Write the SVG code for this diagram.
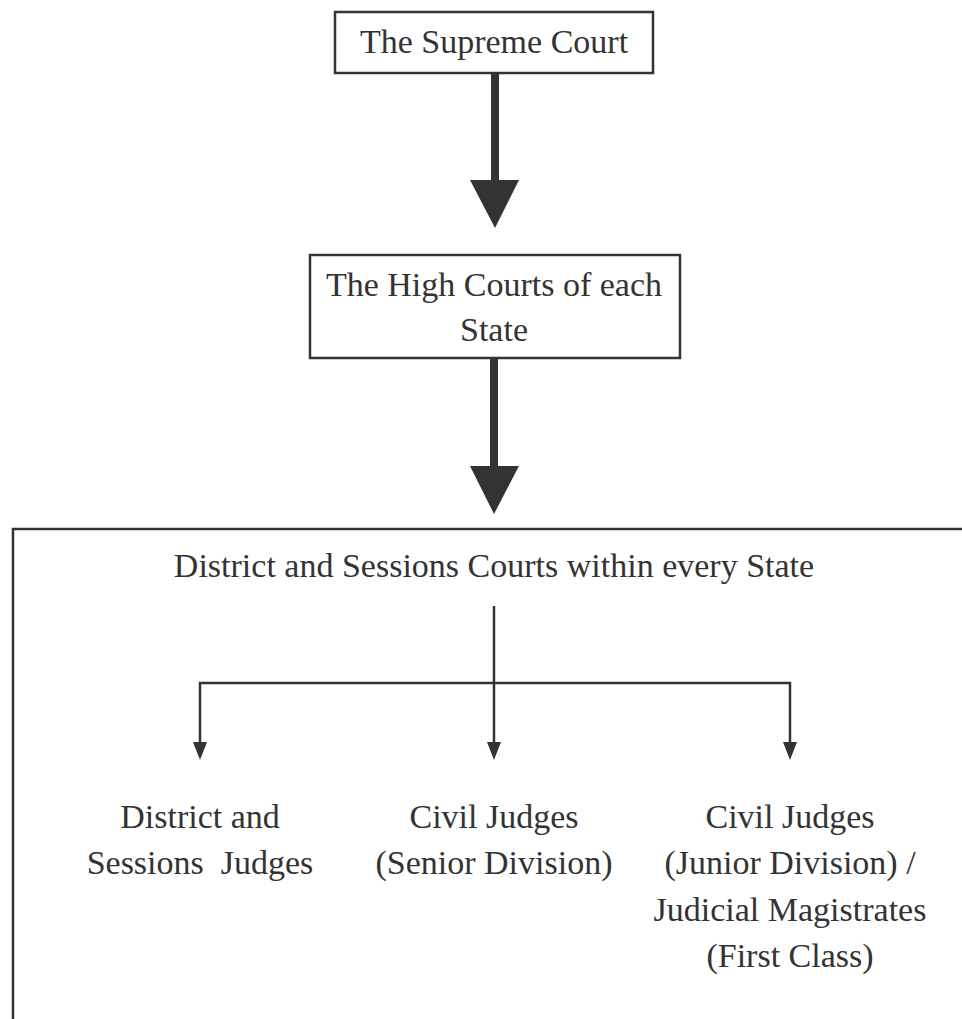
<svg xmlns="http://www.w3.org/2000/svg" width="962" height="1019" viewBox="0 0 962 1019">
<defs>
<style>
.box{fill:#fff;stroke:#333;stroke-width:2.5}
.frame{fill:none;stroke:#333;stroke-width:2.5}
.t{font-family:"Liberation Serif","Times New Roman",serif;font-size:34px;fill:#333;text-anchor:middle}
.thick{stroke:#333;stroke-width:8;fill:none}
.thin{stroke:#333;stroke-width:2.5;fill:none}
</style>
</defs>
<rect width="962" height="1019" fill="#fff"/>
<g id="supreme-court">
<rect class="box" x="335" y="12" width="318" height="61"/>
<text class="t" x="494" y="53">The Supreme Court</text>
</g>
<g id="high-courts">
<rect class="box" x="310" y="255" width="370" height="103"/>
<text class="t" x="494" y="296">The High Courts of each</text>
<text class="t" x="494" y="341">State</text>
</g>
<g id="district-courts">
<path class="frame" d="M13,1025 V529 H970"/>
<text class="t" x="494" y="577">District and Sessions Courts within every State</text>
</g>
<g id="connectors">
<path class="thick" d="M495,74 V181"/>
<path d="M470,180 L519,180 L495,228 Z" fill="#333"/>
<path class="thick" d="M494,358 V467"/>
<path d="M470,466 L519,466 L494,514 Z" fill="#333"/>
<path class="thin" d="M494,606 V745"/>
<path class="thin" d="M200,745 V683 H790 V745"/>
<path d="M193,742 L207,742 L200,760 Z" fill="#333"/>
<path d="M487,742 L501,742 L494,760 Z" fill="#333"/>
<path d="M783,742 L797,742 L790,760 Z" fill="#333"/>
</g>
<g id="district-judges">
<text class="t" x="200" y="828">District and</text>
<text class="t" x="200" y="874" xml:space="preserve">Sessions  Judges</text>
</g>
<g id="civil-senior">
<text class="t" x="494" y="828">Civil Judges</text>
<text class="t" x="494" y="874">(Senior Division)</text>
</g>
<g id="civil-junior">
<text class="t" x="790" y="828">Civil Judges</text>
<text class="t" x="790" y="874">(Junior Division) /</text>
<text class="t" x="790" y="921">Judicial Magistrates</text>
<text class="t" x="790" y="967">(First Class)</text>
</g>
</svg>
